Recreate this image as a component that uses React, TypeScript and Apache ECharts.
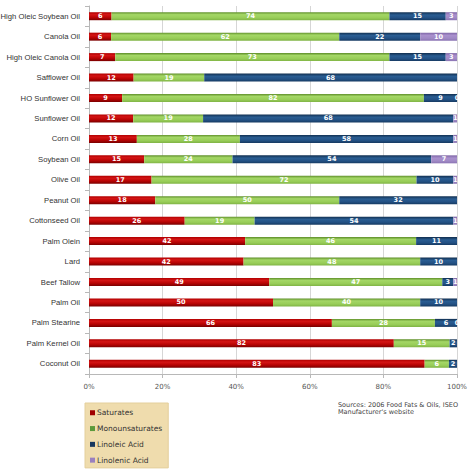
import React, { useEffect, useRef } from "react";
import * as echarts from "echarts";

const categories = [
  "High Oleic Soybean Oil", "Canola Oil", "High Oleic Canola Oil", "Safflower Oil",
  "HO Sunflower Oil", "Sunflower Oil", "Corn Oil", "Soybean Oil", "Olive Oil",
  "Peanut Oil", "Cottonseed Oil", "Palm Olein", "Lard", "Beef Tallow", "Palm Oil",
  "Palm Stearine", "Palm Kernel Oil", "Coconut Oil",
];
const saturates = [6, 6, 7, 12, 9, 12, 13, 15, 17, 18, 26, 42, 42, 49, 50, 66, 82, 83];
const monounsaturates = [74, 62, 73, 19, 82, 19, 28, 24, 72, 50, 19, 46, 48, 47, 40, 28, 15, 6];
const linoleic = [15, 22, 15, 68, 9, 68, 58, 54, 10, 32, 54, 11, 10, 3, 10, 6, 2, 2];
const linolenic: (number | null)[] = [3, 10, 3, null, 0, 1, 1, 7, 1, null, 1, null, null, 1, null, 0, null, null];
const xTicks = [0, 20, 40, 60, 80, 100];
const seriesNames = ["Saturates", "Monounsaturates", "Linoleic Acid", "Linolenic Acid"];
const sourceLines = ["Sources: 2006 Food Fats & Oils, ISEO", "Manufacturer's website"];

const grad = (stops: [number, string][]) =>
  new echarts.graphic.LinearGradient(0, 0, 0, 1, stops.map(([offset, color]) => ({ offset, color })));

export default function App() {
  const ref = useRef<HTMLDivElement>(null);
  useEffect(() => {
    document.body.style.margin = "0";
    const chart = echarts.init(ref.current!, null, { renderer: "svg" });
    const raw = [saturates, monounsaturates, linoleic, linolenic];
    const totals = categories.map((_, i) =>
      raw.reduce((s, arr) => s + (arr[i] == null ? 0 : (arr[i] as number)), 0)
    );
    const fills = [
      grad([[0, "#b00000"], [0.3, "#d41414"], [0.65, "#b80404"], [1, "#7a0000"]]),
      grad([[0, "#5f8f2a"], [0.3, "#a4d766"], [0.7, "#98cd58"], [1, "#80b445"]]),
      grad([[0, "#112f50"], [0.35, "#2a5d92"], [0.7, "#235184"], [1, "#163a62"]]),
      grad([[0, "#7e66a6"], [0.35, "#a990cd"], [0.7, "#a08ac5"], [1, "#8b74b4"]]),
    ];
    const legendColors = ["#a00000", "#5c9a3c", "#17375e", "#9a80bf"];
    const series = raw.map((arr, si) => ({
      name: seriesNames[si],
      type: "bar",
      stack: "total",
      barWidth: 8,
      itemStyle: { color: fills[si] },
      label: {
        show: true,
        position: "inside",
        color: "#ffffff",
        fontSize: 6.5,
        fontWeight: "bold",
        fontFamily: "DejaVu Sans",
        formatter: (p: any) => String(arr[p.dataIndex]),
      },
      data: arr.map((v, i) => (v == null ? null : (v / totals[i]) * 100)),
    }));
    chart.setOption({
      animation: false,
      grid: { left: 89, right: 11, top: 6, height: 368, outerBoundsMode: "none", containLabel: false },
      xAxis: {
        type: "value",
        min: xTicks[0],
        max: xTicks[xTicks.length - 1],
        interval: 20,
        axisLine: { show: true, lineStyle: { color: "#b8b8b8" } },
        axisTick: { show: true, length: 4, lineStyle: { color: "#b8b8b8" } },
        splitLine: { show: true, lineStyle: { color: "#d6d6d6" } },
        axisLabel: {
          formatter: "{value}%",
          color: "#555",
          fontSize: 7,
          fontFamily: "DejaVu Sans",
          margin: 9,
        },
      },
      yAxis: {
        type: "category",
        data: categories,
        inverse: true,
        axisLine: { show: true, lineStyle: { color: "#b8b8b8" } },
        axisTick: { show: true, length: 4, lineStyle: { color: "#b8b8b8" } },
        axisLabel: {
          color: "#333",
          fontSize: 7.7,
          fontFamily: "Liberation Sans",
          margin: 9,
        },
      },
      legend: {
        orient: "vertical",
        left: 85,
        top: 403,
        backgroundColor: "#efdcad",
        borderColor: "#e4cf9c",
        borderWidth: 1,
        padding: [5, 6, 3, 5],
        itemWidth: 5,
        itemHeight: 5,
        itemGap: 6.3,
        icon: "rect",
        textStyle: { color: "#333", fontSize: 7.5, fontFamily: "DejaVu Sans", lineHeight: 9.5, padding: [0, 0, 0, -3] },
        data: seriesNames.map((n, i) => ({ name: n, itemStyle: { color: legendColors[i] } })),
      },
      graphic: [
        {
          type: "text",
          right: 10,
          top: 401,
          style: {
            text: sourceLines.join("\n"),
            fill: "#444",
            fontSize: 6.5,
            fontFamily: "DejaVu Sans",
            lineHeight: 7.5,
            align: "right",
          },
        },
      ],
      series,
    });
    return () => chart.dispose();
  }, []);
  return <div ref={ref} style={{ width: 468, height: 474 }} />;
}
